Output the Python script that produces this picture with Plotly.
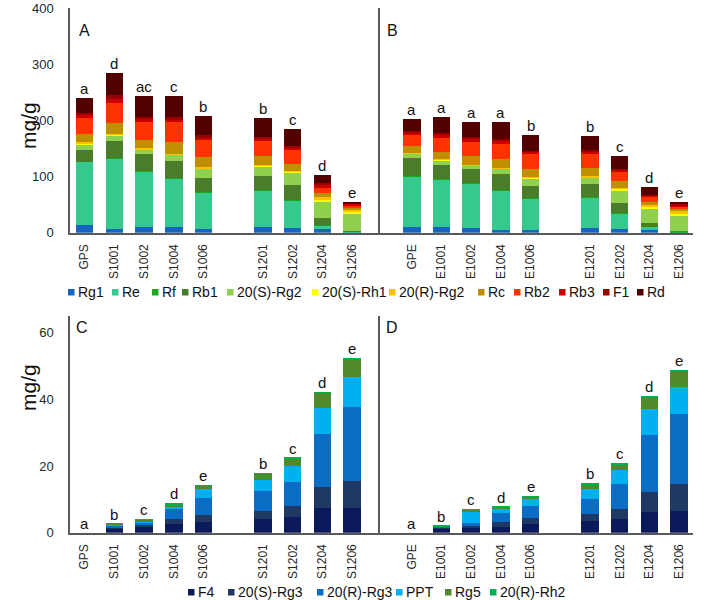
import plotly.graph_objects as go

W, H = 708, 600

# ---------------- data ----------------
samples_A = ["GPS", "S1001", "S1002", "S1004", "S1006", "S1201", "S1202", "S1204", "S1206"]
samples_B = ["GPE", "E1001", "E1002", "E1004", "E1006", "E1201", "E1202", "E1204", "E1206"]

top_components = ["Rg1", "Re", "Rf", "Rb1", "20(S)-Rg2", "20(S)-Rh1", "20(R)-Rg2",
                  "Rc", "Rb2", "Rb3", "F1", "Rd"]
top_colors = ["#1565c0", "#36c98e", "#1fa51f", "#4a7d2a", "#8fd14f", "#ffff00", "#ffc000",
              "#bf8f00", "#ff3300", "#cc0000", "#990000", "#520000"]

A_Rg1 = [14.5, 6.5, 10.7, 9.5, 7, 9.5, 8.3, 6, 0.3]
A_Re = [111, 126, 97, 86, 64, 65, 48.5, 7, 0.5]
A_Rf = [1, 1, 1.5, 1.5, 1.5, 1.5, 1.5, 1, 1.5]
A_Rb1 = [21, 30, 31, 31, 25, 25, 26.5, 12, 0.5]
A_SRg2 = [10, 10, 7, 10, 16, 17, 22, 29, 30]
A_SRh1 = [1.5, 1, 1, 0.5, 1, 1, 1.5, 4, 4]
A_RRg2 = [2, 2, 2, 2, 2.5, 2, 2, 4, 4]
A_Rc = [15, 19, 15, 22, 18, 15, 13, 7, 4]
A_Rb2 = [28, 35, 32, 34, 29.5, 28, 24, 10, 3.5]
A_Rb3 = [6, 8, 5, 5, 5, 4, 4.5, 4.5, 2.5]
A_F1 = [4, 7, 4, 4, 4, 3, 3, 4.5, 1.5]
A_Rd = [26, 39, 37, 38, 35, 34, 30, 14, 3]
letters_A = ["a", "d", "ac", "c", "b", "b", "c", "d", "e"]

B_Rg1 = [11, 11, 9, 5.3, 4, 7.7, 6.5, 5.3, 0.3]
B_Re = [89, 83.5, 78, 70, 56, 54.5, 27.5, 4.5, 0.3]
B_Rf = [1.5, 1.5, 1.5, 1.5, 1.5, 1.5, 1, 1, 2.4]
B_Rb1 = [31.5, 24.5, 25.5, 27, 21.5, 22.5, 18.5, 5.8, 0.3]
B_SRg2 = [7, 8, 5, 10, 13, 11.5, 22, 25, 25.7]
B_SRh1 = [1, 1, 0.5, 0.5, 1, 1, 2, 4, 5]
B_RRg2 = [1.5, 2, 1.5, 1.5, 2, 2, 2, 3, 4]
B_Rc = [12, 12, 15, 16, 15, 14, 12, 6, 3.6]
B_Rb2 = [20, 25.5, 26.5, 26, 25.5, 25, 16.5, 9, 4]
B_Rb3 = [3.5, 5, 4.5, 5, 4, 4, 3.5, 2.5, 3]
B_F1 = [2.5, 4, 4, 4, 3, 3, 2.5, 1.5, 1.8]
B_Rd = [21.5, 28, 27, 30.5, 28.5, 25.5, 22.5, 13.7, 4.2]
letters_B = ["a", "a", "a", "a", "b", "b", "c", "d", "e"]

bottom_components = ["F4", "20(S)-Rg3", "20(R)-Rg3", "PPT", "Rg5", "20(R)-Rh2"]
bottom_colors = ["#0b1a5a", "#1f3864", "#0b6cc4", "#00b0f0", "#4f8a2c", "#00b050"]

C_F4 = [0, 1.2, 2.0, 2.7, 3.3, 4.1, 4.8, 7.5, 7.3]
C_SRg3 = [0, 0.3, 0.3, 1.4, 2.0, 2.4, 3.2, 6.3, 8.2]
C_RRg3 = [0, 0.8, 0.8, 3.2, 5.0, 6.0, 7.3, 15.7, 22.3]
C_PPT = [0, 0.1, 0.4, 0.3, 2.7, 3.3, 4.7, 8.0, 8.8]
C_Rg5 = [0, 0.3, 0.5, 1.0, 1.1, 1.9, 2.2, 4.5, 5.6]
C_RRh2 = [0, 0.05, 0.05, 0.2, 0.2, 0.2, 0.3, 0.2, 0.2]
letters_C = ["a", "b", "c", "d", "e", "b", "c", "d", "e"]

D_F4 = [0, 1.2, 1.3, 1.8, 2.7, 3.6, 4.2, 6.3, 6.6]
D_SRg3 = [0, 0.4, 0.7, 1.5, 1.6, 2.0, 3.0, 6.0, 7.9]
D_RRg3 = [0, 0.2, 0.8, 2.5, 3.7, 4.6, 7.4, 17.0, 21.0]
D_PPT = [0, 0.05, 3.7, 1.2, 2.1, 2.9, 4.2, 7.8, 8.1]
D_Rg5 = [0, 0.15, 0.5, 0.7, 0.7, 1.5, 1.8, 3.6, 4.9]
D_RRh2 = [0, 0.05, 0.05, 0.1, 0.2, 0.2, 0.2, 0.2, 0.2]
letters_D = ["a", "b", "c", "d", "e", "b", "c", "d", "e"]

top_ticks = [0, 100, 200, 300, 400]
bottom_ticks = [0, 20, 40, 60]

# ---------------- helpers ----------------
def px(x):
    return x / W

def py(y):
    return 1 - y / H

FONT = "Arial, Liberation Sans, sans-serif"
AXCOL = "#595959"
TXT = "#262626"

panelA = [A_Rg1, A_Re, A_Rf, A_Rb1, A_SRg2, A_SRh1, A_RRg2, A_Rc, A_Rb2, A_Rb3, A_F1, A_Rd]
panelB = [B_Rg1, B_Re, B_Rf, B_Rb1, B_SRg2, B_SRh1, B_RRg2, B_Rc, B_Rb2, B_Rb3, B_F1, B_Rd]
panelC = [C_F4, C_SRg3, C_RRg3, C_PPT, C_Rg5, C_RRh2]
panelD = [D_F4, D_SRg3, D_RRg3, D_PPT, D_Rg5, D_RRh2]

fig = go.Figure()

def add_panel(series, names, colors, samples, xa, ya, letters):
    for vals, name, col in zip(series, names, colors):
        fig.add_trace(go.Bar(x=samples, y=vals, name=name, marker_color=col,
                             marker_line_width=0, xaxis=xa, yaxis=ya,
                             showlegend=False))
    totals = [sum(v) for v in zip(*series)]
    for s, t, l in zip(samples, totals, letters):
        fig.add_annotation(x=s, y=t, xref=xa, yref=ya, text=l, showarrow=False,
                           yanchor="bottom", yshift=-1,
                           font=dict(family=FONT, size=15, color="#111"))

add_panel(panelA, top_components, top_colors, samples_A, "x", "y", letters_A)
add_panel(panelB, top_components, top_colors, samples_B, "x2", "y2", letters_B)
add_panel(panelC, bottom_components, bottom_colors, samples_A, "x3", "y3", letters_C)
add_panel(panelD, bottom_components, bottom_colors, samples_B, "x4", "y4", letters_D)

order_A = samples_A[:5] + [" "] + samples_A[5:]
order_B = samples_B[:5] + [" "] + samples_B[5:]

def xaxis(dom, order, rng, anchor):
    return dict(domain=dom, type="category", categoryorder="array", categoryarray=order,
                range=rng, anchor=anchor, tickangle=-90, showline=True, linecolor=AXCOL,
                linewidth=1.5, showgrid=False, zeroline=False, ticks="", automargin=False,
                ticklabelstandoff=5, tickfont=dict(family=FONT, size=12, color=TXT))

def yaxis(dom, rng, ticks, anchor, labels=True):
    return dict(domain=dom, range=rng, tickvals=ticks, anchor=anchor, showline=True,
                linecolor=AXCOL, linewidth=1.5, showgrid=False, zeroline=False,
                ticks="", showticklabels=labels, ticklabelstandoff=12, automargin=False,
                tickfont=dict(family=FONT, size=13, color=TXT))

xA = [px(70), px(380)]
xB = [px(380), px(693)]
yTop = [py(232.7), py(8.3)]
yBot = [py(532.7), py(316)]

fig.update_layout(
    width=W, height=H, margin=dict(l=0, r=0, t=0, b=0, autoexpand=False),
    paper_bgcolor="white", plot_bgcolor="white",
    barmode="stack", bargap=0.41,
    font=dict(family=FONT, color=TXT),
    xaxis=xaxis(xA, order_A, [-0.49, 9.94], "y"),
    xaxis2=xaxis(xB, order_B, [-1.07, 9.47], "y2"),
    xaxis3=xaxis(xA, order_A, [-0.49, 9.94], "y3"),
    xaxis4=xaxis(xB, order_B, [-1.07, 9.47], "y4"),
    yaxis=yaxis(yTop, [0, 400], top_ticks, "x"),
    yaxis2=yaxis(yTop, [0, 400], top_ticks, "x2", labels=False),
    yaxis3=yaxis(yBot, [0, 65], bottom_ticks, "x3"),
    yaxis4=yaxis(yBot, [0, 65], bottom_ticks, "x4", labels=False),
)

# y titles and panel letters
for ytxt in (100, 413):
    fig.add_annotation(x=px(15), y=py(ytxt), xref="paper", yref="paper", text="mg/g",
                       textangle=-90, showarrow=False,
                       font=dict(family=FONT, size=21, color="#111"))
for letter, (lx, ly) in zip(["A", "B", "C", "D"], [(77, 20), (385, 20), (74, 327), (384, 327)]):
    fig.add_annotation(x=px(lx), y=py(ly), xref="paper", yref="paper", text=letter,
                       xanchor="left", showarrow=False,
                       font=dict(family=FONT, size=16, color="#111"))

# custom legends (squares + real text)
top_leg_x = [68, 112, 152, 182, 227, 312, 389, 478, 514, 559, 603, 637]
bot_leg_x = [188, 228, 317, 396, 445, 490]

def add_legend(names, colors, xs, yc):
    for name, col, x0 in zip(names, colors, xs):
        fig.add_shape(type="rect", xref="paper", yref="paper",
                      x0=px(x0), x1=px(x0 + 6.5), y0=py(yc + 3.5), y1=py(yc - 3),
                      fillcolor=col, line_width=0)
        fig.add_annotation(x=px(x0 + 8), y=py(yc), xref="paper", yref="paper", text=name,
                           xanchor="left", yanchor="middle", showarrow=False,
                           font=dict(family=FONT, size=14, color="#111"))

add_legend(top_components, top_colors, top_leg_x, 292)
add_legend(bottom_components, bottom_colors, bot_leg_x, 592)

fig.write_html("out.html", config={"displayModeBar": False},
               post_script="document.body.style.margin='0';document.body.style.overflow='hidden';")
